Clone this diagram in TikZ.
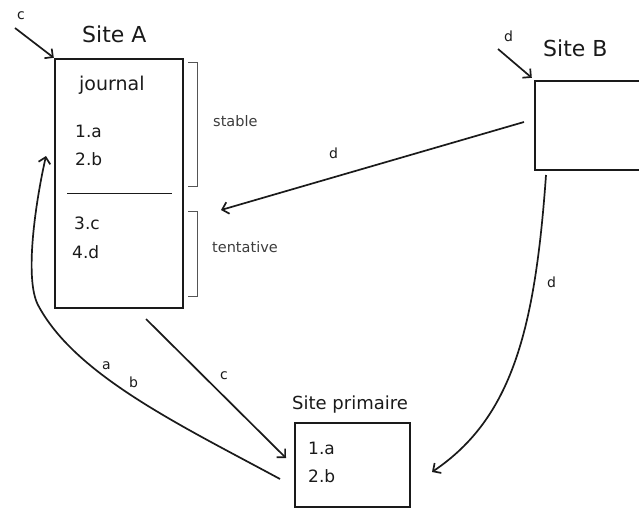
\documentclass[tikz,border=0pt]{standalone}
\usepackage{fontspec}
\setmainfont{DejaVu Sans}
\usetikzlibrary{arrows.meta}
\definecolor{ink}{HTML}{1A1A1A}
\definecolor{brk}{HTML}{555555}
\newcommand{\fs}[1]{\fontsize{#1}{#1}\selectfont}
\begin{document}
\begin{tikzpicture}[x=1pt,y=-1pt,
  box/.style={draw=ink,line width=2.4pt,inner sep=0pt,minimum width=#1},
  txt/.style={anchor=base west,inner sep=0pt,text=ink},
  lbl/.style={anchor=base west,inner sep=0pt,text=ink,font=\fs{14}},
  flow/.style={draw=ink,line width=1.7pt,-{Straight Barb[length=6pt,width=12pt,line width=1.7pt]}},
  bracket/.style={draw=brk,line width=1pt}]
\useasboundingbox (0,0) rectangle (639,508);
\clip (0,0) rectangle (639,508);

% --- boxes
\node[box=128pt,minimum height=249pt] (siteA) at (119,183.5) {};
\node[box=125pt,minimum height=89pt] (siteB) at (597.5,125.5) {};
\node[box=115pt,minimum height=84pt] (prim) at (352.5,465) {};

% --- titles
\node[txt,font=\fs{22}] (tA) at (82,43) {Site A};
\node[txt,font=\fs{22}] (tB) at (543,57) {Site B};
\node[txt,font=\fs{18}] (tP) at (292,409) {Site primaire};

% --- journal of site A
\node[txt,font=\fs{19}] (jr) at (79,91) {journal};
\node[txt,font=\fs{17}] (a1) at (75,137) {1.a};
\node[txt,font=\fs{17}] (a2) at (75,165) {2.b};
\node[txt,font=\fs{17}] (a3) at (74,229) {3.c};
\node[txt,font=\fs{17}] (a4) at (72,258) {4.d};
\coordinate (sepL) at (67,193);
\coordinate (sepR) at (172,193);
\draw[draw=ink,line width=1pt] (sepL) -- (sepR);

% --- contents of the primary site
\node[txt,font=\fs{17}] (p1) at (308,454) {1.a};
\node[txt,font=\fs{17}] (p2) at (308,482) {2.b};

% --- stable / tentative brackets
\draw[bracket] (188,63) -- (197,63) -- (197,186) -- (188,186);
\draw[bracket] (188,211) -- (197,211) -- (197,296) -- (188,296);
\node[txt,font=\fs{14.5},text=ink!85] (st) at (213,126) {stable};
\node[txt,font=\fs{14.5},text=ink!85] (tt) at (212,252) {tentative};

% --- incoming operations
\coordinate (cIn) at (15,28);
\draw[flow] (cIn) -- (siteA.north west);
\node[lbl] (lc0) at (17,20) {c};
\coordinate (dIn) at (498,49);
\draw[flow] (dIn) -- ([shift={(-2pt,2pt)}]siteB.north west);
\node[lbl] (ld0) at (504,42) {d};

% --- site B propagates d to site A
\coordinate (bOut) at (524,122);
\coordinate (aIn) at (221,210);
\draw[flow] (bOut) -- (aIn);
\node[lbl] (ld1) at (329,158) {d};

% --- site B sends d to the primary site
\coordinate (bDown) at (546,175);
\coordinate (pRight) at (432,472);
\draw[flow] (bDown) .. controls (535,330) and (512,418) .. (pRight);
\node[lbl] (ld2) at (547,287) {d};

% --- site A sends c to the primary site
\coordinate (aOut) at (146,319);
\coordinate (pLeft) at (286,458);
\draw[flow] (aOut) -- (pLeft);
\node[lbl] (lc1) at (220,379) {c};

% --- primary site returns a, b to site A
\coordinate (pBack) at (280,479);
\coordinate (aBack) at (46,156);
\draw[flow] (pBack) .. controls (180,425) and (75,375) .. (38,305)
  .. controls (24,278) and (36,200) .. (aBack);
\node[lbl] (la) at (102,369) {a};
\node[lbl] (lb) at (129,387) {b};
\end{tikzpicture}
\end{document}
